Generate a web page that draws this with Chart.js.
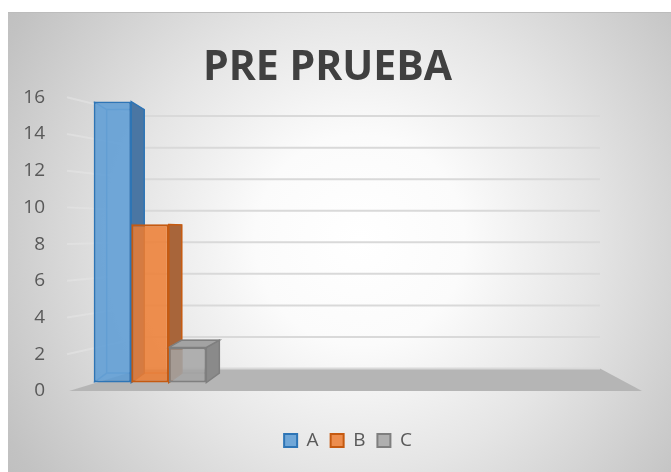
<!DOCTYPE html>
<html>
<head>
<meta charset="utf-8">
<script src="https://cdn.jsdelivr.net/npm/chart.js@4.4.1/dist/chart.umd.min.js"></script>
<style>
  html, body { margin: 0; padding: 0; background: #fff; }
  #wrap { width: 671px; height: 472px; }
</style>
</head>
<body>
<div id="wrap"><canvas id="chart" width="671" height="472"></canvas></div>
<script>
// chart data
const categories = ['', '', '']
const seriesNames = ['A', 'B', 'C']
const valuesA = [16, null, null]
const valuesB = [9, null, null]
const valuesC = [2, null, null]
const yTicks = [0, 2, 4, 6, 8, 10, 12, 14, 16]

// look of the excel-like 3d columns
const frontColors = ['rgba(91,155,213,0.85)', 'rgba(237,125,49,0.85)', 'rgba(165,165,165,0.85)']
const edgeColors = ['#2e75b6', '#c55a11', '#7f7f7f']
const sideColors = ['#4a76a3', '#a8653a', '#8a8a8a']
const topColors = ['#5b8fc4', '#e0864a', '#a3a3a3']

const DX = 13        // horizontal depth offset of a column
const BAR_K = 0.938  // vertical shrink of the column back face
const WALL_K = 0.859 // vertical shrink of the back wall
const EYE = 8.7      // value at eye level

const look3d = {
  id: 'look3d',
  beforeDraw(chart) {
    const ctx = chart.ctx
    ctx.save()
    ctx.fillStyle = '#fff'
    ctx.fillRect(0, 0, chart.width, chart.height)
    const g = ctx.createRadialGradient(360, 240, 0, 360, 240, 420)
    g.addColorStop(0, '#ffffff')
    g.addColorStop(0.25, '#fbfbfb')
    g.addColorStop(0.55, '#e5e5e5')
    g.addColorStop(0.96, '#c2c2c2')
    g.addColorStop(1, '#c0c0c0')
    ctx.fillStyle = g
    ctx.fillRect(8, 12, chart.width - 8, chart.height - 12)
    ctx.fillStyle = '#bcbcbc'
    ctx.fillRect(8, 12, chart.width - 8, 1)
    ctx.restore()
  },
  beforeDatasetsDraw(chart) {
    const { ctx, chartArea: a } = chart
    const y = chart.scales.y
    const y2 = chart.scales.y2
    const eyeL = y.getPixelForValue(EYE)
    const wallY = v => eyeL + (y.getPixelForValue(v) - eyeL) * WALL_K
    const backL = a.left + 92, backR = a.right - 45
    const frontL = a.left + 18, frontR = a.right - 3
    const base = y.getPixelForValue(0)

    ctx.save()
    // floor
    ctx.fillStyle = '#b5b5b5'
    ctx.beginPath()
    ctx.moveTo(frontL, base)
    ctx.lineTo(frontR, base)
    ctx.lineTo(backR, wallY(0))
    ctx.lineTo(backL, wallY(0))
    ctx.closePath()
    ctx.fill()

    // back wall and side wall grid lines
    ctx.lineWidth = 2
    yTicks.forEach(v => {
      const yb = wallY(v)
      ctx.strokeStyle = '#d9d9d9'
      ctx.beginPath(); ctx.moveTo(backL, yb); ctx.lineTo(backR, yb); ctx.stroke()
      if (v > 0) {
        ctx.strokeStyle = 'rgba(228,228,228,0.6)'
        ctx.beginPath(); ctx.moveTo(a.left + 16, y.getPixelForValue(v)); ctx.lineTo(backL, yb); ctx.stroke()
      }
    })

    // depth of the columns
    const eyeB = y2.getPixelForValue(EYE)
    const backY = p => eyeB + (p - eyeB) * BAR_K
    chart.data.datasets.forEach((ds, i) => {
      const meta = chart.getDatasetMeta(i)
      meta.data.forEach((bar, j) => {
        if (ds.data[j] == null) return
        const { x, y: top, base: bot, width } = bar.getProps(['x', 'y', 'base', 'width'], true)
        const l = x - width / 2, r = x + width / 2
        const bt = backY(top), bb = backY(bot)

        // back edges seen through the face
        ctx.strokeStyle = edgeColors[i]
        ctx.globalAlpha = 0.45
        ctx.lineWidth = 1.5
        ctx.beginPath()
        ctx.moveTo(l, top); ctx.lineTo(l + DX, bt); ctx.lineTo(l + DX, bb); ctx.lineTo(r + DX, bb)
        ctx.moveTo(l, bot); ctx.lineTo(l + DX, bb)
        ctx.moveTo(l + DX, bt); ctx.lineTo(r + DX, bt)
        ctx.stroke()
        ctx.globalAlpha = 1

        // side face
        ctx.fillStyle = sideColors[i]
        ctx.beginPath()
        ctx.moveTo(r, top); ctx.lineTo(r + DX, bt); ctx.lineTo(r + DX, bb); ctx.lineTo(r, bot)
        ctx.closePath()
        ctx.fill()
        ctx.stroke()

        // top face, only when seen from above
        if (bt < top - 0.5) {
          ctx.fillStyle = topColors[i]
          ctx.beginPath()
          ctx.moveTo(l, top); ctx.lineTo(r, top); ctx.lineTo(r + DX, bt); ctx.lineTo(l + DX, bt)
          ctx.closePath()
          ctx.fill()
          ctx.stroke()
        }
      })
    })
    ctx.restore()
  }
}

const seriesValues = [valuesA, valuesB, valuesC]
const ctx = document.getElementById('chart')
const chart = new Chart(ctx, {
  type: 'bar',
  data: {
    labels: categories,
    datasets: seriesNames.map((name, i) => ({
      label: name,
      data: seriesValues[i],
      yAxisID: 'y2',
      backgroundColor: frontColors[i],
      borderColor: edgeColors[i],
      borderWidth: 2,
      borderSkipped: false,
      barPercentage: 1,
      categoryPercentage: 0.569
    }))
  },
  options: {
    responsive: false,
    animation: false,
    layout: { padding: { top: 12, left: 10, right: 26, bottom: 12 } },
    plugins: {
      tooltip: { enabled: false },
      title: {
        display: true,
        text: 'PRE PRUEBA',
        color: '#404040',
        font: { family: 'Open Sans', size: 41, weight: 'bold' },
        padding: { top: 32, bottom: 4 }
      },
      legend: {
        position: 'bottom',
        fullSize: false,
        labels: {
          boxWidth: 13,
          boxHeight: 13,
          padding: 12,
          color: '#595959',
          font: { family: 'Open Sans', size: 19 }
        }
      }
    },
    scales: {
      x: {
        grid: { display: false, drawTicks: false },
        border: { display: false },
        ticks: { display: false },
        afterFit(s) { s.height = 28 }
      },
      y: {
        position: 'left',
        min: yTicks[0],
        max: yTicks[yTicks.length - 1],
        grid: { display: false, drawTicks: false },
        border: { display: false },
        ticks: {
          stepSize: yTicks[1] - yTicks[0],
          padding: 6,
          color: '#595959',
          font: { family: 'Open Sans', size: 19 }
        },
        afterFit(s) { s.width = 41 }
      },
      y2: {
        display: false,
        min: -0.479,
        max: 16.251
      }
    }
  },
  plugins: [look3d]
})
</script>
</body>
</html>
